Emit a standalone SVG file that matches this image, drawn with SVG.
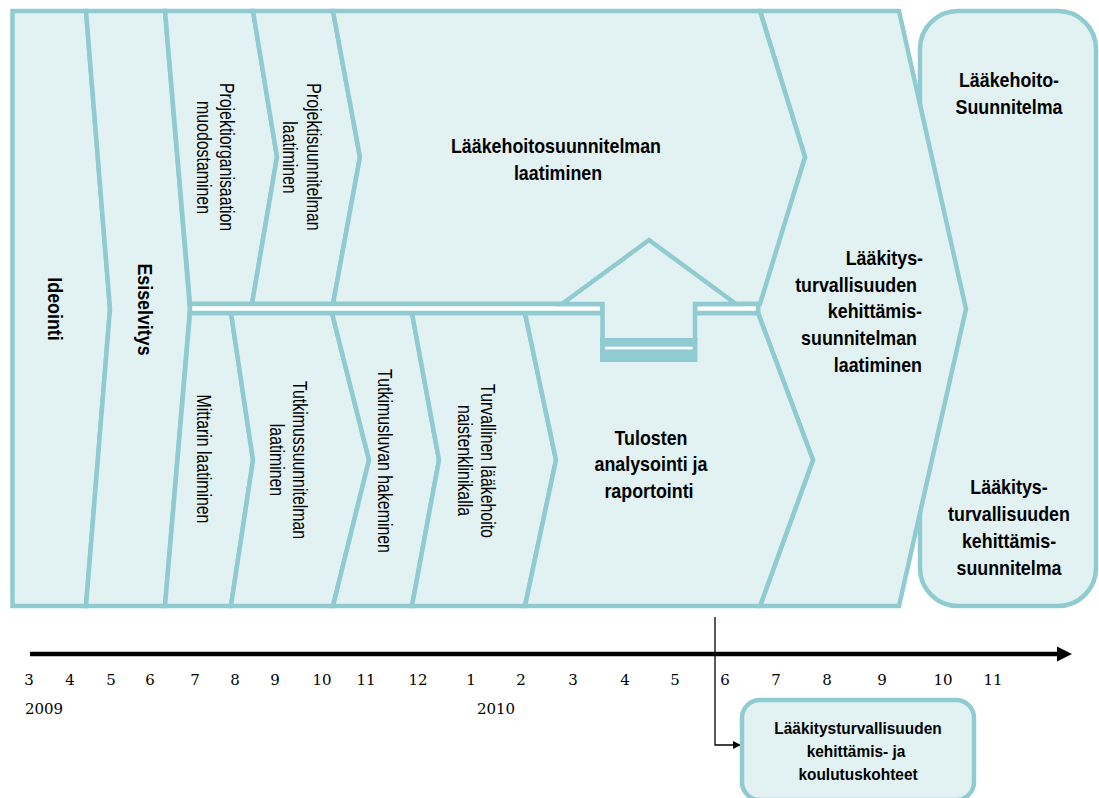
<svg xmlns="http://www.w3.org/2000/svg" width="1099" height="798" viewBox="0 0 1099 798">
  <defs>
    <style>
      .sh { fill: #E2F2F3; stroke: #8FCBD0; stroke-width: 4.5; stroke-linejoin: miter; }
      .bar { fill: #8FCBD0; }
      .b { font-family: "Liberation Sans", Arial, sans-serif; font-weight: bold; font-size: 21px; fill: #000; }
      .r { font-family: "Liberation Sans", Arial, sans-serif; font-size: 19.5px; fill: #000; }
      .s { font-family: "Liberation Sans", Arial, sans-serif; font-weight: bold; font-size: 16px; fill: #000; }
      .d { font-family: "DejaVu Serif", serif; font-size: 15px; fill: #000; }
      .c { text-anchor: middle; }
      .e { text-anchor: end; }
    </style>
    <marker id="ah" markerWidth="8" markerHeight="8" refX="8" refY="4" orient="auto" markerUnits="userSpaceOnUse">
      <path d="M0,0 L8,4 L0,8 Z" fill="#000"/>
    </marker>
  </defs>
  <rect width="1099" height="798" fill="#fff"/>

  <!-- result box on the right (drawn first so the final chevron overlaps it) -->
  <g id="tulos">
    <rect class="sh" x="920" y="11" width="176" height="595" rx="38" ry="38"/>
    <text class="b c" transform="translate(1009,87) scale(0.85,1)">Lääkehoito-</text>
    <text class="b c" transform="translate(1009,113.5) scale(0.85,1)">Suunnitelma</text>
    <text class="b c" transform="translate(1009,494) scale(0.85,1)">Lääkitys-</text>
    <text class="b c" transform="translate(1009,521) scale(0.85,1)">turvallisuuden</text>
    <text class="b c" transform="translate(1009,548) scale(0.85,1)">kehittämis-</text>
    <text class="b c" transform="translate(1009,574.5) scale(0.85,1)">suunnitelma</text>
  </g>

  <!-- final phase chevron -->
  <g id="kehittamissuunnitelma">
    <polygon class="sh" points="760,11 899,11 966,309 899,606 760,606 813,460 758,313 758,304 805,157"/>
    <text class="b e" transform="translate(923,265) scale(0.85,1)">Lääkitys-</text>
    <text class="b e" transform="translate(917,291.5) scale(0.85,1)">turvallisuuden</text>
    <text class="b e" transform="translate(922,318) scale(0.85,1)">kehittämis-</text>
    <text class="b e" transform="translate(917,345) scale(0.85,1)">suunnitelman</text>
    <text class="b e" transform="translate(922,372) scale(0.85,1)">laatiminen</text>
  </g>

  <!-- full-height phases -->
  <g id="ideointi">
    <polygon class="sh" points="12.5,11 86,11 110,309 86,606 12.5,606"/>
    <text class="b c" transform="translate(48,309) rotate(90) scale(0.85,1)">Ideointi</text>
  </g>
  <g id="esiselvitys">
    <polygon class="sh" points="86,11 165,11 190,309 165,606 86,606 110,309"/>
    <text class="b c" transform="translate(138,309.5) rotate(90) scale(0.85,1)">Esiselvitys</text>
  </g>

  <!-- upper track -->
  <g id="projektiorganisaatio">
    <polygon class="sh" points="165,11 253,11 277,157 252,304 190,304"/>
    <text class="r c" transform="translate(220,157) rotate(90) scale(0.815,1)">Projektiorganisaation</text>
    <text class="r c" transform="translate(197,157.5) rotate(90) scale(0.815,1)">muodostaminen</text>
  </g>
  <g id="projektisuunnitelma">
    <polygon class="sh" points="253,11 333,11 360,157 333,304 252,304 277,157"/>
    <text class="r c" transform="translate(307,157) rotate(90) scale(0.815,1)">Projektisuunnitelman</text>
    <text class="r c" transform="translate(283,157.5) rotate(90) scale(0.815,1)">laatiminen</text>
  </g>
  <g id="laakehoitosuunnitelma">
    <polygon class="sh" points="333,11 760,11 805,157 760,304 333,304 360,157"/>
    <text class="b c" transform="translate(556,153) scale(0.85,1)">Lääkehoitosuunnitelman</text>
    <text class="b c" transform="translate(558,180) scale(0.85,1)">laatiminen</text>
  </g>

  <!-- lower track -->
  <g id="mittari">
    <polygon class="sh" points="190,313 231,313 253,460 231,606 165,606"/>
    <text class="r c" transform="translate(197,459) rotate(90) scale(0.815,1)">Mittarin laatiminen</text>
  </g>
  <g id="tutkimussuunnitelma">
    <polygon class="sh" points="231,313 332,313 369,460 333,606 231,606 253,460"/>
    <text class="r c" transform="translate(293,460) rotate(90) scale(0.815,1)">Tutkimussuunnitelman</text>
    <text class="r c" transform="translate(270,460) rotate(90) scale(0.815,1)">laatiminen</text>
  </g>
  <g id="tutkimuslupa">
    <polygon class="sh" points="332,313 412,313 439,460 412,606 333,606 369,460"/>
    <text class="r c" transform="translate(378,461) rotate(90) scale(0.815,1)">Tutkimusluvan hakeminen</text>
  </g>
  <g id="turvallinen-laakehoito">
    <polygon class="sh" points="412,313 525,313 556,460 525,606 412,606 439,460"/>
    <text class="r c" transform="translate(480.5,461) rotate(90) scale(0.815,1)">Turvallinen lääkehoito</text>
    <text class="r c" transform="translate(458,460.5) rotate(90) scale(0.815,1)">naistenklinikalla</text>
  </g>
  <g id="tulosten-analysointi">
    <polygon class="sh" points="525,313 758,313 813,460 760,606 525,606 556,460"/>
    <text class="b c" transform="translate(651,444.5) scale(0.85,1)">Tulosten</text>
    <text class="b c" transform="translate(651,471) scale(0.85,1)">analysointi ja</text>
    <text class="b c" transform="translate(649,497.5) scale(0.85,1)">raportointi</text>
  </g>

  <!-- double divider between the tracks, with the upward arrow -->
  <g id="jakaja">
    <rect x="190" y="304" width="412.5" height="9" fill="#fff" stroke="#8FCBD0" stroke-width="4.5"/>
    <rect x="695" y="304" width="63" height="9" fill="#fff" stroke="#8FCBD0" stroke-width="4.5"/>
  </g>
  <g id="nuoli">
    <path class="sh" d="M602.5,340 V304 H562 L649,240 L736,304 H695 V340"/>
    <rect class="bar" x="600" y="338" width="97.5" height="24"/>
    <rect x="605" y="346.7" width="87.5" height="2.7" fill="#fff"/>
  </g>

  <!-- connectors: timeline and link to the outcome box -->
  <g id="connectors">
    <line x1="30" y1="654" x2="1058" y2="654" stroke="#000" stroke-width="4.5"/>
    <polygon points="1057,646.5 1072,654 1057,661.5" fill="#000"/>
    <polyline points="715,617 715,745 741,745" fill="none" stroke="#000" stroke-width="1.3" marker-end="url(#ah)"/>
  </g>

  <!-- month and year labels -->
  <g id="aikajana">
    <text class="d c" x="29" y="685">3</text>
    <text class="d c" x="70" y="685">4</text>
    <text class="d c" x="111" y="685">5</text>
    <text class="d c" x="150" y="685">6</text>
    <text class="d c" x="195" y="685">7</text>
    <text class="d c" x="235" y="685">8</text>
    <text class="d c" x="275" y="685">9</text>
    <text class="d c" x="322" y="685">10</text>
    <text class="d c" x="366" y="685">11</text>
    <text class="d c" x="418" y="685">12</text>
    <text class="d c" x="471" y="685">1</text>
    <text class="d c" x="521" y="685">2</text>
    <text class="d c" x="573" y="685">3</text>
    <text class="d c" x="625" y="685">4</text>
    <text class="d c" x="675" y="685">5</text>
    <text class="d c" x="725" y="685">6</text>
    <text class="d c" x="776" y="685">7</text>
    <text class="d c" x="827" y="685">8</text>
    <text class="d c" x="882" y="685">9</text>
    <text class="d c" x="943" y="685">10</text>
    <text class="d c" x="993" y="685">11</text>
    <text class="d c" x="44" y="714">2009</text>
    <text class="d c" x="496" y="714">2010</text>
  </g>

  <g id="kohteet">
    <rect class="sh" x="742" y="700" width="232" height="100" rx="18" ry="18"/>
    <text class="s c" transform="translate(858,734) scale(0.965,1)">Lääkitysturvallisuuden</text>
    <text class="s c" transform="translate(856,757) scale(0.965,1)">kehittämis- ja</text>
    <text class="s c" transform="translate(858,780) scale(0.965,1)">koulutuskohteet</text>
  </g>
</svg>
